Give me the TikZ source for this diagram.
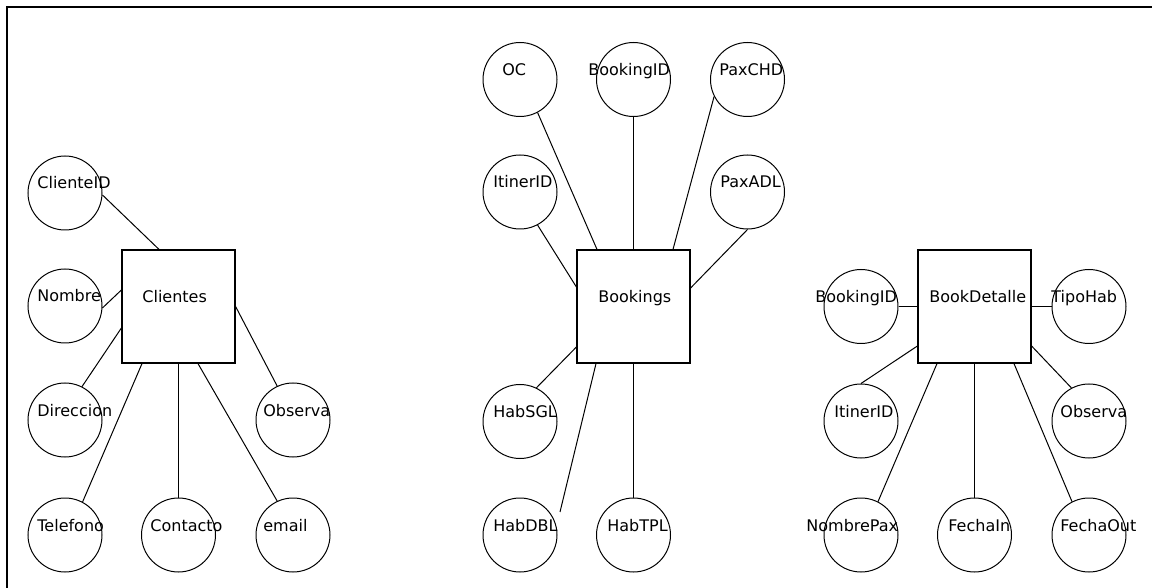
\documentclass[tikz,border=0pt]{standalone}
\usepackage{fontspec}
\setmainfont{DejaVu Sans}
\begin{document}
\begin{tikzpicture}[x=0.5pt,y=-0.5pt,
  attr/.style={circle,draw,line width=0.5pt,minimum size=37pt,inner sep=0pt},
  ent/.style={rectangle,draw,line width=0.6pt,minimum size=56.5pt,inner sep=0pt},
  lbl/.style={anchor=base west,inner sep=0pt,font=\fontsize{8}{9.6}\selectfont},
  link/.style={draw,line width=0.5pt},
  frame/.style={draw,line width=1pt}]
\useasboundingbox (0,0) rectangle (1152,588);
\draw[frame] (7,588) -- (7,7) -- (1152,7);

% ---- Clientes ----
\node[ent]  (cl)    at (178.5,306.5) {};
\node[attr] (clid)  at (65,193) {};
\node[attr] (clnom) at (65,306) {};
\node[attr] (cldir) at (65,420) {};
\node[attr] (cltel) at (65,535) {};
\node[attr] (clcon) at (178.5,535) {};
\node[attr] (clema) at (293,535) {};
\node[attr] (clobs) at (293,420) {};

\node[lbl] (t-cl)    at ([shift={(-36.5,-3.7)}]cl.center) {Clientes};
\node[lbl] (t-clid)  at ([shift={(-28,-4)}]clid.center) {ClienteID};
\node[lbl] (t-clnom) at ([shift={(-28,-4)}]clnom.center) {Nombre};
\node[lbl] (t-cldir) at ([shift={(-28,-4)}]cldir.center) {Direccion};
\node[lbl] (t-cltel) at ([shift={(-28,-4)}]cltel.center) {Telefono};
\node[lbl] (t-clcon) at ([shift={(-28.5,-4)}]clcon.center) {Contacto};
\node[lbl] (t-clema) at ([shift={(-30,-4)}]clema.center) {email};
\node[lbl] (t-clobs) at ([shift={(-30,-4)}]clobs.center) {Observa};

\draw[link] (clid.-3)  -- ([shift={(-19.5,0)}]cl.north);
\draw[link] (clnom.-3) -- ([shift={(0,-16.5)}]cl.west);
\draw[link] (cldir.63) -- ([shift={(0,21.5)}]cl.west);
\draw[link] (cltel.62) -- ([shift={(-36.5,0)}]cl.south);
\draw[link] (clcon.north) -- (cl.south);
\draw[link] (clema.115) -- ([shift={(19.5,0)}]cl.south);
\draw[link] (clobs.115) -- (cl.east);

% ---- Bookings ----
\node[ent]  (bk)    at (633.5,306.5) {};
\node[attr] (bkoc)  at (520,79.5) {};
\node[attr] (bkid)  at (633.5,79.5) {};
\node[attr] (bkchd) at (747.5,79.5) {};
\node[attr] (bkit)  at (520,192) {};
\node[attr] (bkadl) at (747.5,192) {};
\node[attr] (bksgl) at (520,421.5) {};
\node[attr] (bkdbl) at (520,535) {};
\node[attr] (bktpl) at (633.5,535) {};

\node[lbl] (t-bk)    at ([shift={(-35.5,-3.7)}]bk.center) {Bookings};
\node[lbl] (t-bkoc)  at ([shift={(-18,-4)}]bkoc.center) {OC};
\node[lbl] (t-bkid)  at ([shift={(-45.5,-4)}]bkid.center) {BookingID};
\node[lbl] (t-bkchd) at ([shift={(-28.5,-4)}]bkchd.center) {PaxCHD};
\node[lbl] (t-bkit)  at ([shift={(-27,-4)}]bkit.center) {ItinerID};
\node[lbl] (t-bkadl) at ([shift={(-27.5,-4)}]bkadl.center) {PaxADL};
\node[lbl] (t-bksgl) at ([shift={(-27,-4)}]bksgl.center) {HabSGL};
\node[lbl] (t-bkdbl) at ([shift={(-27,-4)}]bkdbl.center) {HabDBL};
\node[lbl] (t-bktpl) at ([shift={(-26.5,-4)}]bktpl.center) {HabTPL};

\draw[link] (bkoc.-62)  -- ([shift={(-36.5,0)}]bk.north);
\draw[link] (bkid.south) -- (bk.north);
\draw[link] (bkchd.207) -- ([shift={(39.5,0)}]bk.north);
\draw[link] (bkit.-62)  -- ([shift={(0,-19.5)}]bk.west);
\draw[link] (bkadl.south) -- ([shift={(0,-18.5)}]bk.east);
\draw[link] (bksgl.64)  -- ([shift={(0,40.5)}]bk.west);
\draw[link] ([shift={(40,-23)}]bkdbl.center) -- ([shift={(-37.5,0)}]bk.south);
\draw[link] (bktpl.north) -- (bk.south);

% ---- BookDetalle ----
\node[ent]  (bd)     at (974.5,306.5) {};
\node[attr] (bdid)   at (861,306.5) {};
\node[attr] (bdtipo) at (1089,306.5) {};
\node[attr] (bdit)   at (861,421) {};
\node[attr] (bdobs)  at (1089,421) {};
\node[attr] (bdnom)  at (861,535) {};
\node[attr] (bdfin)  at (974.5,535) {};
\node[attr] (bdfout) at (1089,535) {};

\node[lbl] (t-bd)     at ([shift={(-45.5,-3.7)}]bd.center) {BookDetalle};
\node[lbl] (t-bdid)   at ([shift={(-46,-4)}]bdid.center) {BookingID};
\node[lbl] (t-bdtipo) at ([shift={(-38,-4)}]bdtipo.center) {TipoHab};
\node[lbl] (t-bdit)   at ([shift={(-27,-4)}]bdit.center) {ItinerID};
\node[lbl] (t-bdobs)  at ([shift={(-29,-4)}]bdobs.center) {Observa};
\node[lbl] (t-bdnom)  at ([shift={(-55,-4)}]bdnom.center) {NombrePax};
\node[lbl] (t-bdfin)  at ([shift={(-26.5,-4)}]bdfin.center) {FechaIn};
\node[lbl] (t-bdfout) at ([shift={(-29,-4)}]bdfout.center) {FechaOut};

\draw[link] (bdid.east) -- (bd.west);
\draw[link] (bdtipo.west) -- (bd.east);
\draw[link] (bdit.north) -- ([shift={(0,39.5)}]bd.west);
\draw[link] (bdobs.118) -- ([shift={(0,39.5)}]bd.east);
\draw[link] (bdnom.63) -- ([shift={(-37.5,0)}]bd.south);
\draw[link] (bdfin.north) -- (bd.south);
\draw[link] (bdfout.117) -- ([shift={(39.5,0)}]bd.south);
\end{tikzpicture}
\end{document}
